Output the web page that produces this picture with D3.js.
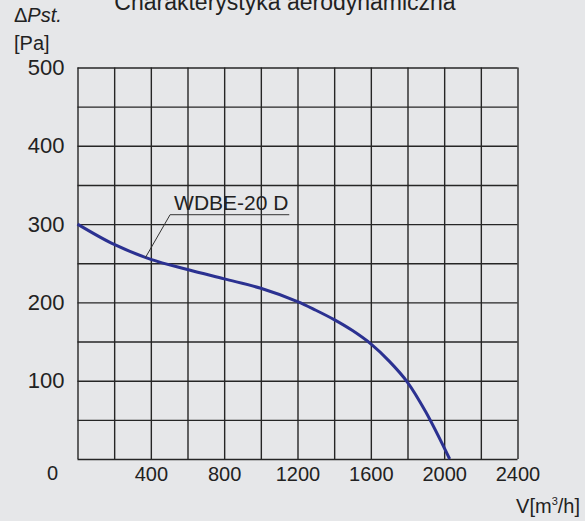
<!DOCTYPE html>
<html>
<head>
<meta charset="utf-8">
<script src="https://cdn.jsdelivr.net/npm/d3@7"></script>
<style>
  body { margin: 0; background: #e6e7e9; }
  svg { display: block; font-family: "Liberation Sans", Arial, sans-serif; }
  .grid line { stroke: #262626; stroke-width: 1.4; }
  .grid path { display: none; }
  .tick text { fill: #222; }
</style>
</head>
<body>
<div id="chart"></div>
<script>
// data
var flow = [0, 200, 400, 600, 800, 1000, 1200, 1300, 1400, 1500, 1600, 1700, 1800, 1900, 2030];
var pressure = [300, 274, 255, 242, 230, 218, 201, 190, 178, 164, 147, 125, 98, 60, 0];
var xTicks = [400, 800, 1200, 1600, 2000, 2400];
var yTicks = [100, 200, 300, 400, 500];
var seriesName = "WDBE-20 D";

var svgWidth = 585;
var svgHeight = 521;
var margin = { top: 67.5, right: 67.5, bottom: 62, left: 77.5 };
var width = svgWidth - margin.left - margin.right;
var height = svgHeight - margin.top - margin.bottom;

var svg = d3.select("#chart")
  .append("svg")
  .attr("width", svgWidth)
  .attr("height", svgHeight);

svg.append("rect")
  .attr("width", svgWidth)
  .attr("height", svgHeight)
  .attr("fill", "#e6e7e9");

var chartGroup = svg.append("g")
  .attr("transform", `translate(${margin.left}, ${margin.top})`);

var xScale = d3.scaleLinear().domain([0, 2400]).range([0, width]);
var yScale = d3.scaleLinear().domain([0, 500]).range([height, 0]);

// grid: every 200 m3/h and every 50 Pa
chartGroup.append("g")
  .attr("class", "grid")
  .attr("transform", `translate(0, ${height})`)
  .call(d3.axisBottom(xScale).tickValues(d3.range(0, 2401, 200)).tickSize(-height).tickFormat(""));

chartGroup.append("g")
  .attr("class", "grid")
  .call(d3.axisLeft(yScale).tickValues(d3.range(0, 501, 50)).tickSize(-width).tickFormat(""));

// tick labels
var xAxis = chartGroup.append("g")
  .attr("transform", `translate(0, ${height})`)
  .call(d3.axisBottom(xScale).tickValues(xTicks).tickSize(0).tickPadding(8).tickFormat(d3.format("d")));
xAxis.select(".domain").remove();
xAxis.selectAll("text").attr("font-size", 20).attr("font-family", "Liberation Sans, Arial, sans-serif");

var yAxis = chartGroup.append("g")
  .call(d3.axisLeft(yScale).tickValues(yTicks).tickSize(0).tickPadding(13));
yAxis.select(".domain").remove();
yAxis.selectAll("text").attr("font-size", 22).attr("font-family", "Liberation Sans, Arial, sans-serif");

// the corner zero
chartGroup.append("text")
  .attr("x", -25)
  .attr("y", height + 15)
  .attr("dy", "0.32em")
  .attr("text-anchor", "middle")
  .attr("font-size", 20)
  .attr("fill", "#222")
  .text("0");

// fan curve
var points = flow.map(function(f, i) { return [f, pressure[i]]; });

var line = d3.line()
  .x(function(d) { return xScale(d[0]); })
  .y(function(d) { return yScale(d[1]); })
  .curve(d3.curveCatmullRom.alpha(0.5));

chartGroup.append("path")
  .datum(points)
  .attr("d", line)
  .attr("fill", "none")
  .attr("stroke", "#2b3191")
  .attr("stroke-width", 3);

// series label with leader line
var anchorFlow = 370;
var anchorP = 257;
var labelX = xScale(505);
var labelY = yScale(312);
chartGroup.append("path")
  .attr("d", `M${xScale(anchorFlow)},${yScale(anchorP)} L${labelX},${labelY} H${xScale(1155)}`)
  .attr("fill", "none")
  .attr("stroke", "#333")
  .attr("stroke-width", 1);

chartGroup.append("text")
  .attr("x", labelX + 4)
  .attr("y", labelY - 5)
  .attr("font-size", 21)
  .attr("fill", "#222")
  .text(seriesName);

// titles
svg.append("text")
  .attr("x", 285)
  .attr("y", 10)
  .attr("text-anchor", "middle")
  .attr("font-size", 23)
  .attr("fill", "#222")
  .text("Charakterystyka aerodynamiczna");

var yTitle = svg.append("text")
  .attr("x", 14)
  .attr("y", 22)
  .attr("font-size", 20)
  .attr("fill", "#222");
yTitle.append("tspan").text("\u0394");
yTitle.append("tspan").attr("font-style", "italic").text("Pst.");

svg.append("text")
  .attr("x", 14)
  .attr("y", 50)
  .attr("font-size", 20)
  .attr("fill", "#222")
  .text("[Pa]");

var xTitle = svg.append("text")
  .attr("x", 580)
  .attr("y", 513)
  .attr("text-anchor", "end")
  .attr("font-size", 20)
  .attr("fill", "#222");
xTitle.append("tspan").text("V[m");
xTitle.append("tspan").attr("font-size", 11).attr("dy", -8).text("3");
xTitle.append("tspan").attr("dy", 8).text("/h]");
</script>
</body>
</html>
